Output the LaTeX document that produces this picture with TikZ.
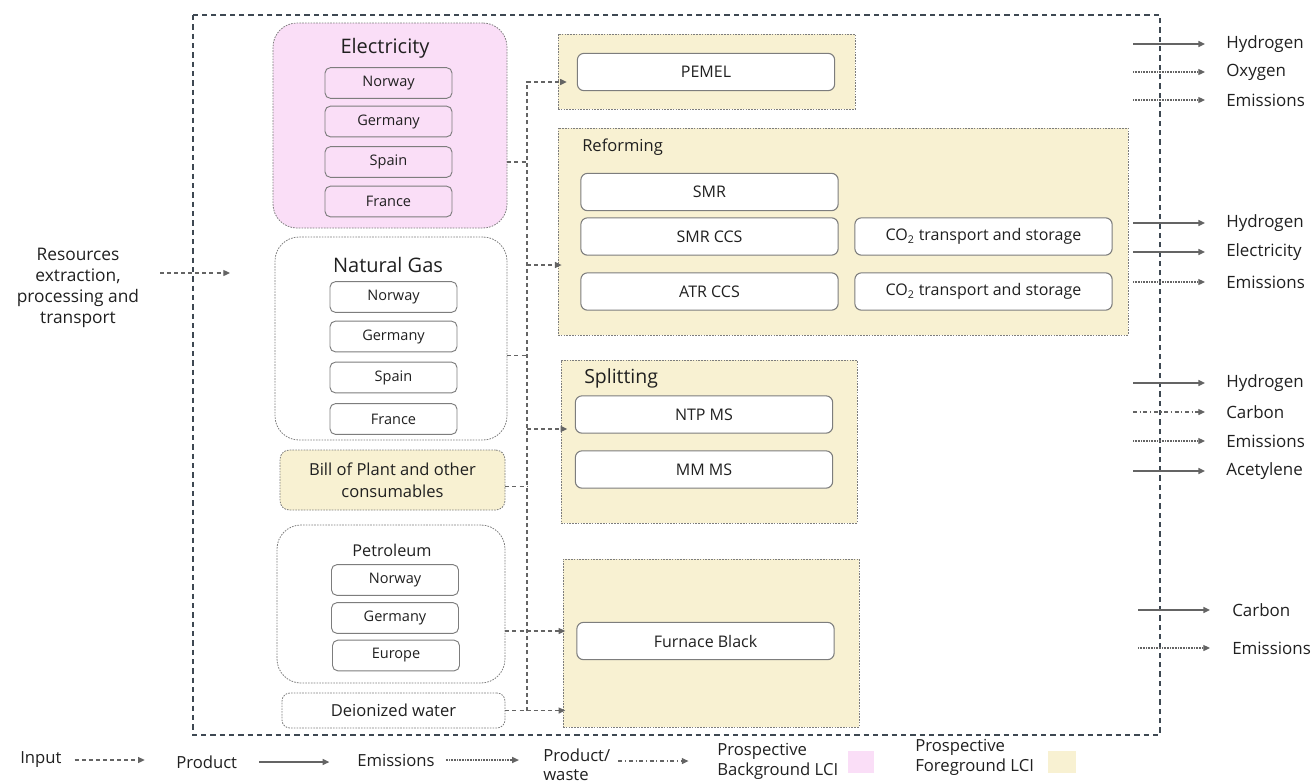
\documentclass[tikz,border=0pt]{standalone}
\usepackage{fontspec}
\setmainfont{Open Sans}
\usepackage{tikz}
\usetikzlibrary{arrows.meta}
\definecolor{bgpink}{RGB}{250,222,247}
\definecolor{fgcream}{RGB}{248,241,210}
\definecolor{edgegray}{RGB}{125,125,125}
\definecolor{flowgray}{RGB}{100,100,100}
\definecolor{framegray}{RGB}{62,72,82}
\definecolor{txtgray}{RGB}{32,32,32}

\begin{document}
\begin{tikzpicture}[x=0.75pt,y=-0.75pt]
\tikzstyle{every node}+=[inner sep=0pt,text=txtgray]
\tikzstyle{group}=[draw=edgegray,line width=0.6pt,dash pattern=on 1.2pt off 0.9pt]
\tikzstyle{source}=[group,rounded corners=18pt]
\tikzstyle{stage}=[group,fill=fgcream]
\tikzstyle{country}=[draw=edgegray,line width=0.7pt,fill=white,rounded corners=4pt,minimum width=95.25pt,minimum height=23pt,font=\fontsize{10.9}{13}\selectfont]
\tikzstyle{unit}=[draw=edgegray,line width=0.8pt,fill=white,rounded corners=5pt,minimum width=193pt,minimum height=28pt,font=\fontsize{12}{14}\selectfont]
\tikzstyle{flow}=[draw=flowgray,-{Triangle[length=5pt,width=4.5pt]}]
\tikzstyle{feed}=[flow,line width=0.9pt,dash pattern=on 3pt off 2.3pt]
\tikzstyle{prodflow}=[flow,line width=1.1pt]
\tikzstyle{emisflow}=[flow,line width=0.8pt,dash pattern=on 0.7pt off 0.5pt]
\tikzstyle{wasteflow}=[flow,line width=0.9pt,dash pattern=on 3pt off 2pt on 0.8pt off 2pt]
\tikzstyle{outlabel}=[anchor=west,font=\fontsize{12.7}{15}\selectfont]
\tikzstyle{legend}=[anchor=west,align=left,font=\fontsize{12.5}{15}\selectfont]
\useasboundingbox (0,0) rectangle (1312,783);

% system boundary
\draw[framegray,line width=0.9pt,dash pattern=on 4pt off 3pt] (193,15) rectangle (1160,735);

% resources
\node[align=center,font=\fontsize{13}{15.75}\selectfont] (res) at (78,288) {Resources\\extraction,\\processing and\\transport};
\coordinate (resin) at (160,273);
\coordinate (resout) at (230,273);
\draw[feed] (resin) -- (resout);

% electricity
\node[source,fill=bgpink,minimum width=175.5pt,minimum height=153.75pt] (elec) at (390,125.5) {};
\node[font=\fontsize{15}{18}\selectfont] (electitle) at (385,48) {Electricity};
\node[country,fill=bgpink] (elnor) at (388.5,83) {Norway};
\node[country,fill=bgpink] (elger) at (388.5,121.5) {Germany};
\node[country,fill=bgpink] (elspa) at (388.5,162) {Spain};
\node[country,fill=bgpink] (elfra) at (388.5,201.5) {France};

% natural gas
\node[source,fill=white,minimum width=174pt,minimum height=152.25pt] (ng) at (391,338.5) {};
\node[font=\fontsize{15}{18}\selectfont] (ngtitle) at (388,265) {Natural Gas};
\node[country] (ngnor) at (393.5,297) {Norway};
\node[country] (ngger) at (393.5,336.5) {Germany};
\node[country] (ngspa) at (393.5,377.5) {Spain};
\node[country] (ngfra) at (393.5,419) {France};

% bill of plant
\node[group,fill=fgcream,rounded corners=7pt,minimum width=168.75pt,minimum height=45pt,align=center,font=\fontsize{12.4}{16.5}\selectfont] (bill) at (392.5,480) {Bill of Plant and other\\consumables};

% petroleum
\node[source,fill=white,minimum width=171pt,minimum height=118.5pt] (petro) at (391,604) {};
\node[font=\fontsize{12.2}{15}\selectfont] (petrotitle) at (392,550) {Petroleum};
\node[country] (ptnor) at (395,580) {Norway};
\node[country] (ptger) at (395,618) {Germany};
\node[country] (pteur) at (396,655.5) {Europe};

% deionized water
\node[group,fill=white,rounded corners=6pt,minimum width=167.25pt,minimum height=26.25pt,font=\fontsize{12.4}{15}\selectfont] (dwater) at (393.5,710.5) {Deionized water};

% foreground stages
\node[stage,minimum width=222.75pt,minimum height=56.25pt] (pemelgrp) at (706.5,71.5) {};
\node[unit] (pemel) at (706,72) {PEMEL};

\node[stage,minimum width=427.5pt,minimum height=155.25pt] (reform) at (843,231.5) {};
\node[anchor=west,font=\fontsize{12.4}{15}\selectfont] (reftitle) at (582,147) {Reforming};
\node[unit] (smr) at (709.5,192) {SMR};
\node[unit] (smrccs) at (709.5,236.5) {SMR CCS};
\node[unit] (atrccs) at (709.5,291.5) {ATR CCS};
\node[unit] (cotwo) at (983.5,236.5) {CO\textsubscript{2} transport and storage};
\node[unit] (cothree) at (983.5,291.5) {CO\textsubscript{2} transport and storage};

\node[stage,minimum width=222pt,minimum height=122.25pt] (split) at (709,441.5) {};
\node[anchor=west,font=\fontsize{14.6}{17}\selectfont] (splittitle) at (584,378) {Splitting};
\node[unit] (ntpms) at (704,414.5) {NTP MS};
\node[unit] (mmms) at (704,469.5) {MM MS};

\node[stage,minimum width=222pt,minimum height=126pt] (furnace) at (711,643) {};
\node[unit] (fblack) at (705.5,641) {Furnace Black};

% input bus
\coordinate (bustop) at (527,82);
\coordinate (busbot) at (527,711);
\draw[feed,shorten >=7.5pt] (busbot) -- (bustop) -- (bustop -| pemel.west);
\draw[feed,-] (elspa.east -| elec.east) -- (elspa -| bustop);
\draw[feed,shorten >=-3pt] (ngtitle -| bustop) -- (ngtitle -| reform.west);
\draw[feed,-] ([yshift=-13pt]ng.east) -- ([yshift=-13pt]ng.east -| bustop);
\draw[feed,shorten >=-5pt] ([yshift=9.4pt]split.west -| bustop) -- ([yshift=9.4pt]split.west);
\draw[feed,-] ([yshift=-5pt]bill.east) -- ([yshift=-5pt]bill.east -| bustop);
\draw[feed,shorten >=-2pt] ([yshift=-20.25pt]petro.east) -- ([yshift=-20.25pt]petro.east -| furnace.west);
\draw[feed,shorten >=-2pt] (dwater.east) -- (dwater.east -| furnace.west);

% outputs
\foreach \yy/\lbl/\kind/\nm in {44/Hydrogen/prodflow/oha, 72/Oxygen/emisflow/oox, 100/Emissions/emisflow/oea,
  223/Hydrogen/prodflow/ohb, 252/Electricity/prodflow/oel, 282/Emissions/emisflow/oeb,
  383/Hydrogen/prodflow/ohc, 412/Carbon/wasteflow/oca, 441/Emissions/emisflow/oec, 471/Acetylene/prodflow/oac}
{
  \node[outlabel] (\nm) at (1226,\yy) {\lbl};
  \draw[\kind,shorten >=15.75pt] ([xshift=-69.75pt]\nm.west) -- (\nm.west);
}
\node[outlabel] (ocb) at (1232,610) {Carbon};
\draw[prodflow,shorten >=16.5pt] ([xshift=-70.5pt]ocb.west) -- (ocb.west);
\node[outlabel] (oed) at (1232,648) {Emissions};
\draw[emisflow,shorten >=16.5pt] ([xshift=-70.5pt]oed.west) -- (oed.west);

% legend
\node[legend] (lin) at (20,760) {Input};
\draw[feed] ([xshift=9.75pt]lin.east) -- ++(70,0);
\node[legend] (lprod) at (176,762) {Product};
\draw[prodflow] ([xshift=16.5pt]lprod.east) -- ++(70,0);
\node[legend] (lemis) at (357,760) {Emissions};
\draw[emisflow] ([xshift=8.25pt]lemis.east) -- ++(73,0);
\node[legend,font=\fontsize{12.5}{14.2}\selectfont] (lpw) at (543,764.5) {Product/\\waste};
\draw[wasteflow] ([xshift=6pt,yshift=2.6pt]lpw.east) -- ++(70,0);
\node[legend] (lbg) at (717,761) {Prospective\\Background LCI};
\node[fill=bgpink,minimum width=20pt,minimum height=17pt] (sqbg) at (861,762) {};
\node[legend] (lfg) at (915,757) {Prospective\\Foreground LCI};
\node[fill=fgcream,minimum width=21pt,minimum height=17pt] (sqfg) at (1062,762) {};
\end{tikzpicture}
\end{document}
